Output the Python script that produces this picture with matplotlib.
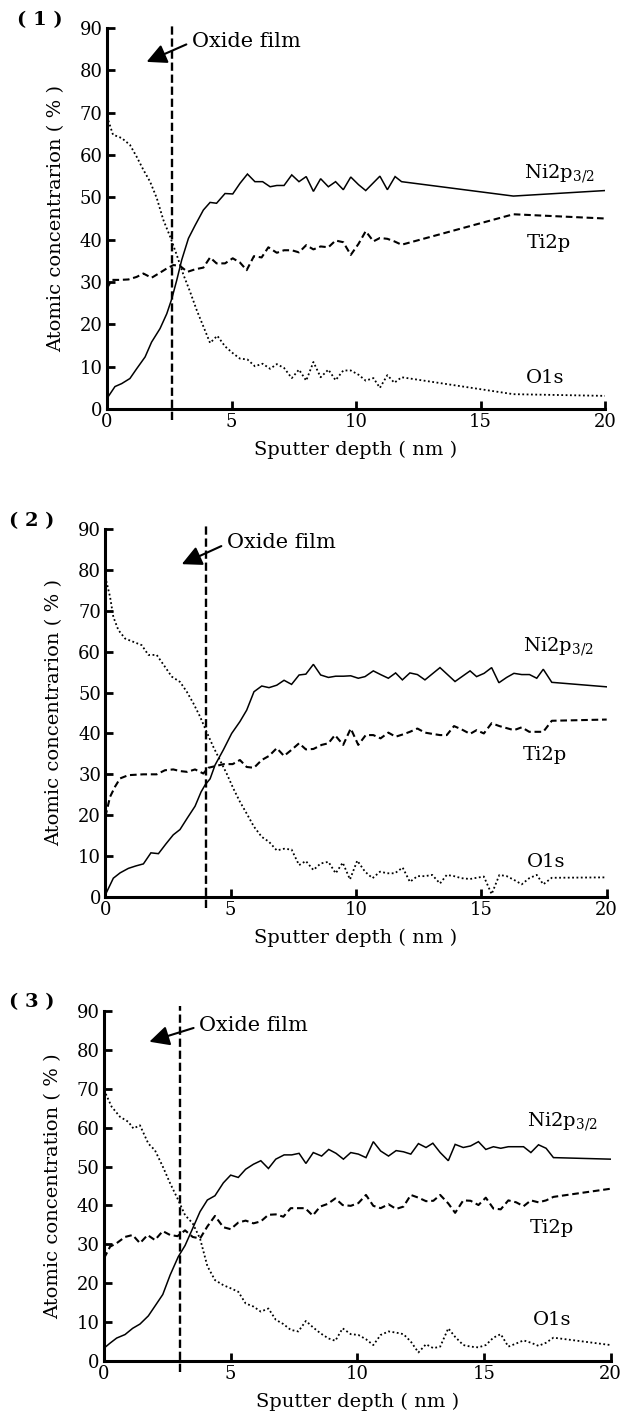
import matplotlib
matplotlib.use('Agg')
import matplotlib.pyplot as plt

plt.rcParams['font.family'] = 'DejaVu Serif'
plt.rcParams['mathtext.fontset'] = 'dejavuserif'

# ---- panel (1) ----
ni1_x = [0, 0.32, 0.59, 0.92, 1.19, 1.53, 1.79, 2.13, 2.4, 2.6, 2.8, 3.0, 3.27, 3.54, 3.87, 4.14, 4.4, 4.74,
         5.05, 5.34, 5.64, 5.94, 6.25, 6.55, 6.82, 7.11, 7.42, 7.71, 8.0, 8.29, 8.58, 8.89, 9.18, 9.49, 9.79,
         10.1, 10.39, 10.96, 11.26, 11.57, 11.83, 16.32, 20]
ni1_y = [2.5, 5.3, 6.0, 7.2, 9.5, 12.3, 15.8, 19.0, 22.5, 26.0, 30.4, 35.2, 40.3, 43.4, 47.0, 48.8, 48.6, 50.9,
         50.8, 53.3, 55.5, 53.7, 53.7, 52.5, 52.8, 52.8, 55.3, 53.7, 54.9, 51.4, 54.4, 52.5, 53.7, 51.8, 54.8,
         53.0, 51.6, 55.0, 51.8, 54.9, 53.7, 50.3, 51.6]
ti1_x = [0, 0.19, 0.52, 0.86, 1.19, 1.46, 1.79, 2.13, 2.4, 2.67, 2.93, 3.23, 3.54, 3.87, 4.14, 4.4, 4.74, 5.05,
         5.34, 5.61, 5.9, 6.21, 6.48, 6.82, 7.11, 7.42, 7.71, 8.0, 8.29, 8.58, 8.89, 9.18, 9.49, 9.79, 10.1,
         10.39, 10.7, 10.96, 11.26, 11.54, 11.83, 16.32, 20]
ti1_y = [28.5, 30.5, 30.5, 30.6, 31.2, 32.0, 31.0, 32.2, 33.2, 34.0, 33.8, 32.4, 33.0, 33.4, 35.8, 34.4, 34.4,
         35.6, 34.6, 32.8, 36.1, 35.8, 38.2, 36.9, 37.5, 37.5, 37.0, 38.7, 37.7, 38.4, 38.2, 39.8, 39.4, 36.4,
         39.0, 42.0, 39.6, 40.4, 40.2, 39.6, 38.8, 46.0, 45.0]
o1_x = [0, 0.24, 0.59, 0.92, 1.19, 1.46, 1.73, 2.0, 2.26, 2.53, 2.8, 3.07, 3.33, 3.6, 3.87, 4.14, 4.43, 4.74,
        5.05, 5.34, 5.64, 5.94, 6.25, 6.55, 6.82, 7.11, 7.42, 7.71, 8.0, 8.29, 8.58, 8.89, 9.18, 9.49, 9.79,
        10.1, 10.39, 10.7, 10.96, 11.26, 11.54, 11.83, 16.32, 20]
o1_y = [69.1, 64.8, 64.0, 62.4, 59.6, 56.5, 53.7, 49.8, 44.7, 40.8, 36.4, 31.7, 27.8, 23.4, 19.5, 15.6, 17.3,
        14.8, 13.2, 11.9, 11.7, 10.1, 10.7, 9.5, 10.6, 9.7, 7.3, 9.3, 6.7, 11.1, 7.5, 9.3, 6.8, 9.1, 9.1,
        8.1, 6.7, 7.3, 5.0, 8.0, 6.2, 7.5, 3.5, 3.1]

# ---- panel (2) ----
ni2_x = [0, 0.32, 0.59, 0.92, 1.22, 1.52, 1.82, 2.12, 2.42, 2.71, 2.98, 3.27, 3.58, 3.82, 3.98, 4.18, 4.38,
         4.71, 5.04, 5.37, 5.64, 5.93, 6.24, 6.53, 6.84, 7.13, 7.43, 7.73, 8.0, 8.3, 8.59, 8.9, 9.19, 9.5,
         9.79, 10.09, 10.36, 10.69, 10.98, 11.29, 11.58, 11.85, 12.15, 12.45, 12.75, 13.35, 13.95, 14.55,
         14.81, 15.11, 15.41, 15.7, 16.01, 16.3, 16.61, 16.92, 17.21, 17.47, 17.81, 20]
ni2_y = [0.5, 4.6, 5.9, 7.0, 7.6, 8.1, 10.8, 10.6, 13.0, 15.2, 16.5, 19.3, 22.2, 25.7, 27.4, 28.9, 32.3,
         36.0, 40.0, 42.9, 45.7, 50.2, 51.6, 51.2, 51.8, 53.0, 52.0, 54.3, 54.5, 56.9, 54.3, 53.7, 54.0, 54.0,
         54.1, 53.5, 53.9, 55.3, 54.4, 53.5, 54.8, 53.1, 54.8, 54.4, 53.1, 56.1, 52.7, 55.3,
         53.9, 54.7, 56.1, 52.4, 53.7, 54.7, 54.4, 54.4, 53.5, 55.7, 52.5, 51.4]
ti2_x = [0, 0.19, 0.39, 0.59, 0.92, 1.52, 2.05, 2.38, 2.71, 2.98, 3.27, 3.58, 3.91, 4.11, 4.38, 4.73, 5.08,
         5.37, 5.64, 5.93, 6.24, 6.53, 6.84, 7.13, 7.43, 7.73, 8.0, 8.3, 8.63, 8.9, 9.16, 9.49, 9.79, 10.09,
         10.39, 10.69, 10.98, 11.29, 11.58, 11.89, 12.15, 12.45, 12.75, 13.04, 13.35, 13.62, 13.91, 14.21,
         14.55, 14.81, 15.1, 15.41, 15.72, 16.01, 16.3, 16.61, 16.91, 17.21, 17.47, 17.81, 20]
ti2_y = [19.6, 24.5, 27.0, 29.0, 29.8, 30.0, 30.0, 31.0, 31.2, 30.8, 30.6, 31.2, 30.2, 31.6, 32.0, 32.5, 32.5,
         33.5, 31.8, 31.6, 33.5, 34.5, 36.4, 34.5, 36.0, 37.6, 36.1, 36.2, 37.2, 37.6, 39.6, 37.2, 41.2, 37.2,
         39.6, 39.6, 38.8, 40.2, 39.2, 39.8, 40.4, 41.2, 40.2, 39.9, 39.6, 39.6, 41.8, 41.0,
         39.9, 40.8, 40.0, 42.5, 41.8, 41.3, 40.8, 41.5, 40.4, 40.4, 40.4, 43.1, 43.4]
o2_x = [0, 0.19, 0.32, 0.52, 0.79, 1.12, 1.45, 1.72, 2.05, 2.38, 2.65, 2.98, 3.25, 3.51, 3.78, 4.04, 4.31,
        4.57, 4.84, 5.11, 5.37, 5.64, 5.93, 6.24, 6.53, 6.84, 7.13, 7.43, 7.73, 8.0, 8.3, 8.59, 8.9, 9.19,
        9.47, 9.76, 10.05, 10.36, 10.66, 10.96, 11.25, 11.55, 11.86, 12.15, 12.45, 12.75, 13.04, 13.35,
        13.62, 13.91, 14.21, 14.55, 14.81, 15.1, 15.41, 15.72, 16.01, 16.3, 16.61, 16.91, 17.21, 17.47,
        17.81, 20]
o2_y = [78.3, 73.4, 68.5, 65.3, 63.2, 62.4, 61.6, 59.2, 59.2, 56.3, 53.9, 52.6, 50.2, 47.4, 44.1, 40.4, 36.7,
        33.5, 30.2, 26.5, 23.3, 20.4, 17.2, 14.7, 13.5, 11.4, 11.8, 11.6, 7.8, 8.8, 6.6, 8.2, 8.6, 5.8,
        8.4, 4.3, 8.9, 6.2, 4.6, 6.2, 5.8, 5.8, 7.2, 3.7, 5.1, 5.1, 5.4, 3.3,
        5.4, 5.1, 4.6, 4.4, 4.7, 5.0, 0.7, 5.4, 5.1, 4.2, 3.1, 4.6, 5.4, 3.1,
        4.7, 4.8]

# ---- panel (3) ----
ni3_x = [0, 0.24, 0.5, 0.83, 1.13, 1.42, 1.75, 2.01, 2.32, 2.61, 2.93, 3.2, 3.5, 3.79, 4.08, 4.38, 4.71, 5.0,
         5.3, 5.59, 5.9, 6.19, 6.49, 6.78, 7.11, 7.41, 7.7, 7.97, 8.26, 8.59, 8.87, 9.16, 9.45, 9.74, 10.04,
         10.34, 10.63, 10.92, 11.23, 11.53, 11.82, 12.11, 12.41, 12.71, 12.98, 13.27, 13.59, 13.86, 14.18,
         14.47, 14.78, 15.07, 15.37, 15.66, 15.96, 16.27, 16.56, 16.85, 17.15, 17.45, 17.74, 20]
ni3_y = [3.3, 4.6, 5.9, 6.8, 8.4, 9.5, 11.6, 14.1, 17.1, 22.1, 26.8, 29.7, 34.1, 38.4, 41.4, 42.5, 45.8, 47.8,
         47.2, 49.3, 50.6, 51.5, 49.5, 51.9, 53.0, 53.0, 53.4, 50.8, 53.6, 52.7, 54.4, 53.4, 51.9, 53.6, 53.2,
         52.3, 56.4, 54.0, 52.7, 54.1, 53.8, 53.2, 55.9, 54.9, 56.0, 53.6, 51.5, 55.7, 54.9,
         55.3, 56.4, 54.4, 55.1, 54.7, 55.1, 55.1, 55.1, 53.6, 55.6, 54.7, 52.3, 51.9]
ti3_x = [0, 0.24, 0.5, 0.83, 1.13, 1.42, 1.72, 2.01, 2.32, 2.61, 2.9, 3.2, 3.5, 3.79, 4.08, 4.38, 4.71, 5.0,
         5.3, 5.59, 5.9, 6.19, 6.49, 6.78, 7.08, 7.37, 7.7, 7.94, 8.24, 8.53, 8.83, 9.13, 9.42, 9.74, 10.04,
         10.34, 10.63, 10.92, 11.23, 11.53, 11.82, 12.11, 12.41, 12.71, 13.0, 13.27, 13.59, 13.86, 14.18,
         14.47, 14.78, 15.07, 15.37, 15.66, 15.96, 16.27, 16.56, 16.85, 17.15, 17.45, 17.74, 20]
ti3_y = [26.4, 29.4, 30.3, 31.9, 32.4, 30.3, 32.4, 31.1, 33.4, 32.4, 32.1, 33.6, 31.9, 31.5, 34.6, 37.3, 34.4,
         33.9, 35.6, 36.1, 35.4, 35.9, 37.6, 37.7, 37.1, 39.3, 39.3, 39.3, 37.4, 39.7, 40.4, 41.8, 40.1, 39.9,
         40.6, 42.7, 39.9, 39.3, 40.3, 39.1, 39.7, 42.7, 42.0, 41.1, 41.2, 42.7, 40.5, 38.1, 41.3,
         41.2, 40.1, 42.0, 39.2, 39.0, 41.3, 40.8, 39.8, 41.3, 40.8, 41.3, 42.2, 44.3]
o3_x = [0, 0.3, 0.63, 0.96, 1.16, 1.42, 1.75, 2.01, 2.32, 2.61, 2.9, 3.2, 3.5, 3.79, 4.08, 4.38, 4.71, 5.0,
        5.3, 5.59, 5.9, 6.19, 6.49, 6.78, 7.08, 7.37, 7.67, 7.97, 8.26, 8.55, 8.86, 9.13, 9.42, 9.74, 10.04,
        10.34, 10.63, 10.92, 11.23, 11.53, 11.82, 12.11, 12.41, 12.71, 13.0, 13.27, 13.59, 13.86, 14.18,
        14.47, 14.78, 15.07, 15.37, 15.66, 15.96, 16.27, 16.56, 16.85, 17.15, 17.45, 17.74, 20]
o3_y = [69.7, 65.4, 62.8, 61.5, 59.8, 60.6, 55.9, 54.2, 50.0, 45.7, 41.8, 37.5, 35.4, 31.5, 24.4, 20.8, 19.5,
        18.7, 17.8, 14.8, 14.0, 12.7, 13.5, 10.6, 9.5, 8.0, 7.6, 10.3, 8.6, 7.1, 5.8, 5.2, 8.4, 6.9, 6.7,
        5.6, 4.1, 6.7, 7.6, 7.3, 6.9, 5.0, 2.2, 4.3, 3.3, 3.7, 8.4, 6.2, 4.1,
        3.7, 3.5, 4.1, 6.0, 6.9, 3.7, 4.5, 5.3, 4.7, 3.9, 4.7, 6.0, 4.1]

panel_names = ['( 1 )', '( 2 )', '( 3 )']
ylabels = ['Atomic concentrarion ( % )', 'Atomic concentrarion ( % )', 'Atomic concentration ( % )']
xlabel = 'Sputter depth ( nm )'
oxide_x = [2.6, 4.0, 3.0]           # position of the oxide film boundary
oxide_head = [(1.59, 82.0), (3.05, 81.4), (1.79, 82.1)]
oxide_text = [(3.4, 85.6), (4.84, 85.3), (3.75, 84.9)]
ni_lab = [(16.75, 54.5), (16.65, 60.0), (16.71, 60.2)]
ti_lab = [(16.84, 38.0), (16.65, 33.5), (16.79, 32.8)]
o_lab = [(16.84, 6.1), (16.8, 7.4), (16.92, 9.3)]

series = [
    (ni1_x, ni1_y, ti1_x, ti1_y, o1_x, o1_y),
    (ni2_x, ni2_y, ti2_x, ti2_y, o2_x, o2_y),
    (ni3_x, ni3_y, ti3_x, ti3_y, o3_x, o3_y),
]

W, H = 632, 1416
# axes boxes in pixels: left, right, top, bottom
boxes = [(107, 605, 28, 409), (105.3, 606.7, 529, 897), (104, 610.7, 1011, 1361)]
panel_pos = [(40, 20), (32, 521), (32, 1002)]

fig = plt.figure(figsize=(W / 100, H / 100), dpi=100)

for i in range(3):
    l, r, t, b = boxes[i]
    ax = fig.add_axes([l / W, 1 - b / H, (r - l) / W, (b - t) / H])
    nx, ny, tx, ty, ox, oy = series[i]

    ax.plot(nx, ny, color='black', lw=1.1, solid_joinstyle='miter')
    ax.plot(tx, ty, color='black', lw=1.5, linestyle=(0, (3.2, 1.8)))
    ax.plot(ox, oy, color='black', lw=1.3, linestyle=(0, (1, 1.4)))

    ax.axvline(oxide_x[i], ymin=-0.03, ymax=1.013, color='black', lw=1.7,
               linestyle=(0, (3.5, 1.6)), clip_on=False)

    ax.annotate('Oxide film', xy=oxide_head[i], xytext=oxide_text[i], fontsize=15,
                ha='left', va='baseline',
                arrowprops=dict(arrowstyle='-|>,head_length=0.6,head_width=0.3', color='black',
                                lw=1.5, shrinkA=2, shrinkB=0, relpos=(0, 0.45), mutation_scale=20))

    ax.text(ni_lab[i][0], ni_lab[i][1], 'Ni2p$_{3/2}$', fontsize=14, ha='left', va='baseline')
    ax.text(ti_lab[i][0], ti_lab[i][1], 'Ti2p', fontsize=14, ha='left', va='baseline')
    ax.text(o_lab[i][0], o_lab[i][1], 'O1s', fontsize=14, ha='left', va='baseline')

    ax.set_xlim(0, 20)
    ax.set_ylim(0, 90)
    ax.set_xticks([0, 5, 10, 15, 20])
    ax.set_yticks(range(0, 91, 10))
    ax.spines['top'].set_visible(False)
    ax.spines['right'].set_visible(False)
    ax.spines['left'].set_linewidth(2.2)
    ax.spines['bottom'].set_linewidth(2.2)
    ax.tick_params(direction='in', length=6, width=2, labelsize=13, pad=3)

    ax.set_xlabel(xlabel, fontsize=14)
    ax.set_ylabel(ylabels[i], fontsize=14)
    ax.xaxis.set_label_coords(0.5, -32 / (b - t))
    ax.yaxis.set_label_coords(-42 / (r - l), 0.5)

    fig.text(panel_pos[i][0] / W, 1 - panel_pos[i][1] / H, panel_names[i], fontsize=14,
             fontweight='bold', ha='center', va='center')

fig.savefig('out.png', dpi=100)
